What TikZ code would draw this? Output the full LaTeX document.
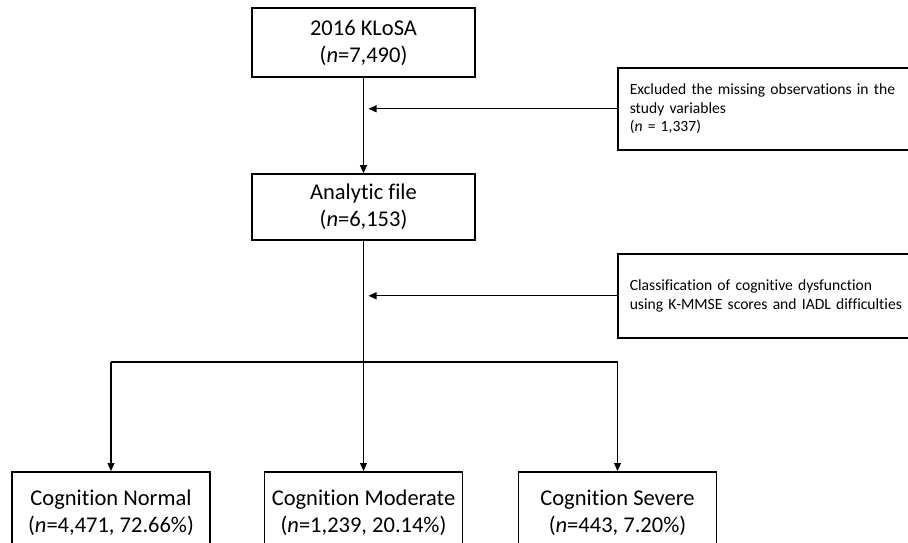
\documentclass[tikz,border=0pt]{standalone}
\usepackage{fontspec}
\setmainfont{Carlito}[Ligatures=NoCommon]
\usetikzlibrary{arrows.meta}

\begin{document}
\begin{tikzpicture}
        [x=1pt, y=-1pt,
        box/.style={rectangle, draw, line width=1.6pt, align=center, inner sep=0pt,
            font=\fontsize{22.5}{27}\selectfont},
        sidebox/.style={rectangle, draw, line width=1.6pt, anchor=north west, align=left,
            text width=296pt, inner xsep=12pt, inner ysep=0pt, minimum width=320pt,
            font=\fontsize{15.6}{18.5}\selectfont},
        groupbox/.style={box, anchor=north, minimum width=198pt, minimum height=82pt},
        flow/.style={line width=1.1pt, black},
        arrow/.style={flow, -{Triangle[length=8pt, width=7pt]}}]

        \useasboundingbox (0,0) rectangle (908,543);
        \clip (0,0) rectangle (908,543);

        % main column
        \node[box, minimum width=223pt, minimum height=69pt] (klosa) at (363.5,42.5) {2016 KLoSA\\(\textit{n}=7,490)};
        \node[box, minimum width=223pt, minimum height=66pt] (analytic) at (363.5,207) {Analytic file\\(\textit{n}=6,153)};

        % side boxes (run off the right edge)
        \node[sidebox, minimum height=82pt] (excl) at (617,67) {Excluded the missing observations in the\\study variables\\(\textit{n} = 1,337)};
        \node[sidebox, minimum height=84pt] (classify) at (617,253) {Classification of cognitive dysfunction\\using K-MMSE scores and IADL difficulties};

        % groups
        \node[groupbox] (normal) at (111,471) {Cognition Normal\\(\textit{n}=4,471, 72.66\%)};
        \node[groupbox] (moderate) at (363.5,471) {Cognition Moderate\\(\textit{n}=1,239, 20.14\%)};
        \node[groupbox] (severe) at (617.5,471) {Cognition Severe\\(\textit{n}=443, 7.20\%)};

        \coordinate (hit1) at (klosa.south |- excl.west);
        \coordinate (hit2) at (klosa.south |- classify.west);
        \coordinate (split) at (363.5,362);

        % main flow
        \draw[arrow] (klosa) -- (analytic);
        \draw[arrow] (analytic) -- (moderate);
        \draw[flow] (normal.north |- split) -- (severe.north |- split);
        \draw[arrow] (normal.north |- split) -- (normal);
        \draw[arrow] (severe.north |- split) -- (severe);

        % exclusion / classification arrows
        \draw[arrow, shorten >=5pt] (excl.west) -- (hit1);
        \draw[arrow, shorten >=5pt] (classify.west) -- (hit2);

    \end{tikzpicture}
\end{document}
